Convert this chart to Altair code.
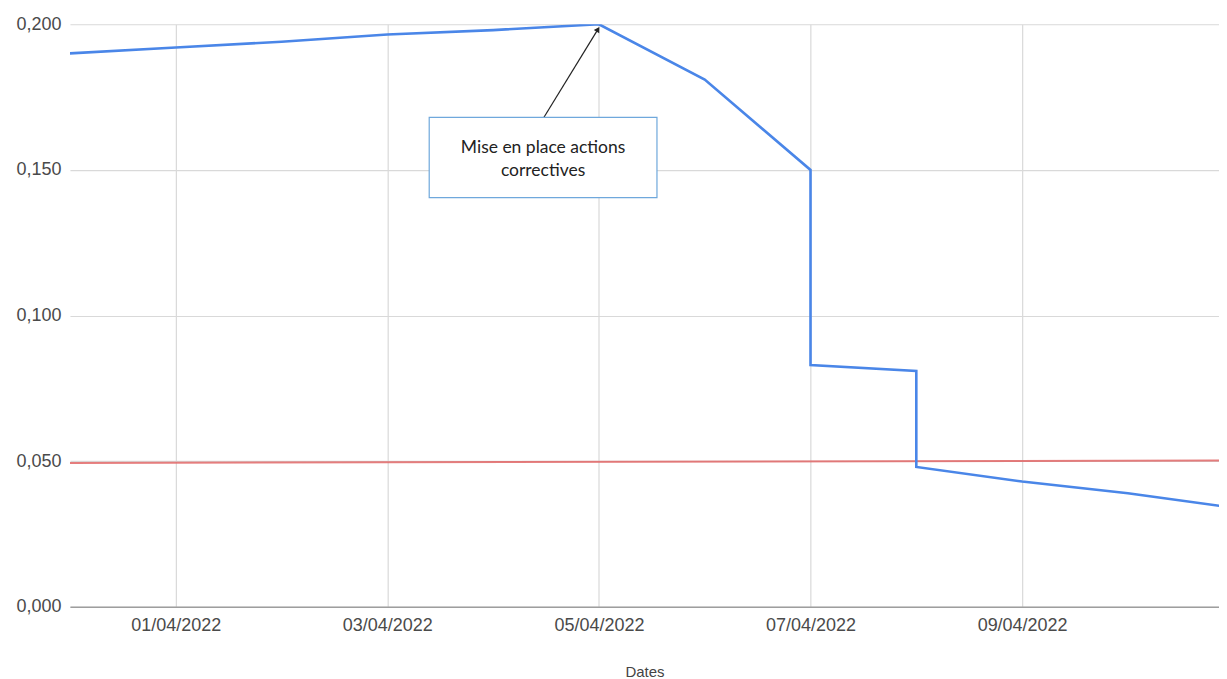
import altair as alt
import pandas as pd

# ---- data ----
dates = ["2022-03-31", "2022-04-01", "2022-04-02", "2022-04-03", "2022-04-04",
         "2022-04-05", "2022-04-06", "2022-04-07", "2022-04-07", "2022-04-08",
         "2022-04-08", "2022-04-09", "2022-04-10", "2022-04-11"]
values = [0.190, 0.192, 0.194, 0.1965, 0.198,
          0.200, 0.181, 0.150, 0.083, 0.081,
          0.048, 0.043, 0.039, 0.034]

target_dates = ["2022-03-31", "2022-04-11"]
target_values = [0.0494, 0.0502]

tick_dates = ["2022-04-01", "2022-04-03", "2022-04-05", "2022-04-07", "2022-04-09"]

annotation_text = ["Mise en place actions", "correctives"]
# annotation box and arrow, in data units
box_x = ["2022-04-03T09:30:00"]
box_x2 = ["2022-04-05T13:10:00"]
box_y = [0.168]
box_y2 = [0.1405]
arrow_tail_x = "2022-04-04T11:30:00"
arrow_tail_y = 0.168
arrow_head_x = "2022-04-04T23:40:00"
arrow_head_y = 0.198

main = pd.DataFrame({"date": dates, "value": values, "order": range(len(dates))})
target = pd.DataFrame({"date": target_dates, "value": target_values})
box = pd.DataFrame({"x": box_x, "x2": box_x2, "y": box_y, "y2": box_y2,
                    "t": ["\n".join(annotation_text)]})
arrow = pd.DataFrame({"x": [arrow_tail_x], "x2": [arrow_head_x],
                      "y": [arrow_tail_y], "y2": [arrow_head_y]})
head = pd.DataFrame({"x": [arrow_head_x], "y": [arrow_head_y]})

x_scale = alt.Scale(type="utc",
                    domain=[alt.DateTime(year=2022, month=3, date=31, utc=True),
                            alt.DateTime(year=2022, month=4, date=10, hours=20, minutes=40, utc=True)],
                    nice=False)
y_scale = alt.Scale(domain=[0, 0.2], nice=False)

x_axis = alt.Axis(
    title="Dates",
    values=[alt.DateTime(year=2022, month=4, date=int(d[-2:]), utc=True) for d in tick_dates],
    format="%d/%m/%Y",
    grid=True, gridColor="#d9d9d9", gridWidth=1.2,
    ticks=False, domain=True, domainColor="#9e9e9e", domainWidth=1.6,
    labelFont="Liberation Sans", labelFontSize=18, labelColor="#4a4a4a", labelPadding=10,
    titleFont="Liberation Sans", titleFontSize=15, titleFontWeight="normal",
    titleColor="#444444", titlePadding=30,
)
y_axis = alt.Axis(
    title=None, values=[0, 0.05, 0.1, 0.15, 0.2],
    labelExpr="replace(format(datum.value, '.3f'), '.', ',')",
    grid=True, gridColor="#d9d9d9", gridWidth=1.2,
    ticks=False, domain=False,
    labelFont="Liberation Sans", labelFontSize=18, labelColor="#4a4a4a", labelPadding=9,
)

base_line = alt.Chart(main).mark_line(color="#4a86e8", strokeWidth=2.6, clip=True).encode(
    x=alt.X("date:T", scale=x_scale, axis=x_axis),
    y=alt.Y("value:Q", scale=y_scale, axis=y_axis),
    order="order:Q",
)

target_line = alt.Chart(target).mark_line(color="#e06666", strokeWidth=2, opacity=0.85, clip=True).encode(
    x=alt.X("date:T", scale=x_scale),
    y=alt.Y("value:Q", scale=y_scale),
)

box_rect = alt.Chart(box).mark_rect(fill="white", stroke="#6fa8dc", strokeWidth=1.2).encode(
    x=alt.X("x:T", scale=x_scale), x2="x2:T",
    y=alt.Y("y:Q", scale=y_scale), y2="y2:Q",
)

box_text = alt.Chart(box).mark_text(
    font="Lato", fontSize=17.5, color="#222222", lineBreak="\n", lineHeight=24,
    align="center", baseline="middle", dy=-10,
).transform_calculate(
    xm="(toDate(datum.x) + toDate(datum.x2)) / 2", ym="(datum.y + datum.y2) / 2"
).encode(
    x=alt.X("xm:T", scale=x_scale), y=alt.Y("ym:Q", scale=y_scale), text="t:N",
)

arrow_rule = alt.Chart(arrow).mark_rule(color="#222222", strokeWidth=1.2).encode(
    x=alt.X("x:T", scale=x_scale), x2="x2:T",
    y=alt.Y("y:Q", scale=y_scale), y2="y2:Q",
)

arrow_head = alt.Chart(head).mark_point(
    shape="triangle", filled=True, color="#222222", size=40, angle=31, opacity=1
).encode(
    x=alt.X("x:T", scale=x_scale), y=alt.Y("y:Q", scale=y_scale),
)

chart = alt.layer(
    target_line, base_line, arrow_rule, arrow_head, box_rect, box_text
).properties(
    width=1150, height=583,
    autosize=alt.AutoSizeParams(type="none"),
    padding={"left": 62, "top": 16, "right": 0, "bottom": 72},
    background="white",
).configure_view(stroke=None)

chart.save("out.html", embed_options={"renderer": "svg", "actions": False})
